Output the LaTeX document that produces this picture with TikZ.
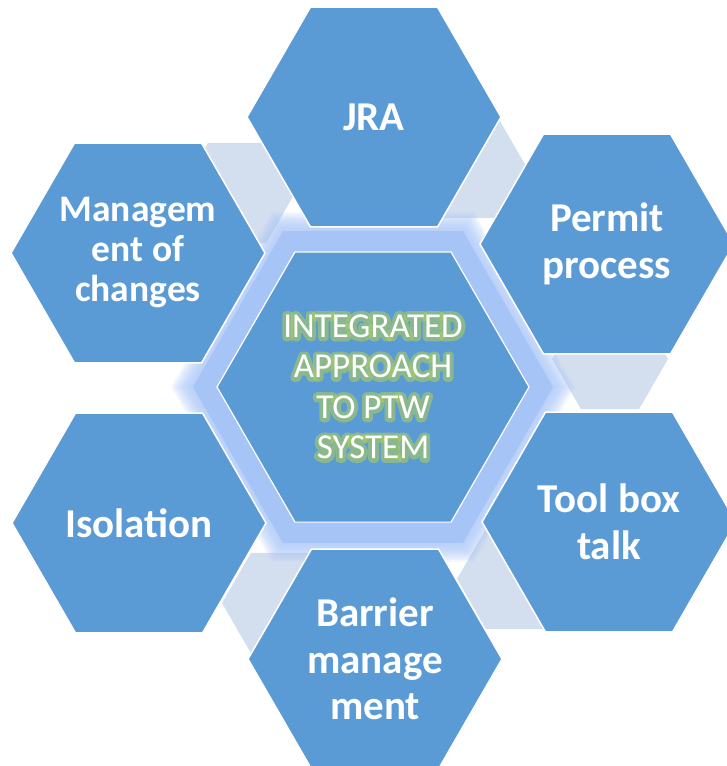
\documentclass[tikz,border=0pt]{standalone}
\usepackage{fontspec}
\setmainfont{Carlito}
\newfontfamily\shinefont[FakeBold=22]{Carlito}
\usetikzlibrary{shapes.geometric}

\definecolor{hexblue}{HTML}{5B9BD5}
\definecolor{glowblue}{HTML}{A7C4F7}
\definecolor{linkgray}{HTML}{D3DEEF}
\definecolor{textglow}{HTML}{A8CC62}

\newcommand\ptwtitle{INTEGRATED\\APPROACH\\TO PTW\\SYSTEM}
\newcommand\roundjoins{\special{pdf:literal direct 1 j 1 J}}

\begin{document}
\begin{tikzpicture}[x=1pt, y=-1pt]

      \tikzset{
        hex/.style={regular polygon, regular polygon sides=6, inner sep=0pt},
        item/.style={hex, fill=hexblue, draw=white, line width=1.5pt, minimum size=254pt},
        item label/.style={align=center, inner sep=0pt, text=white,
          font=\fontsize{41}{46.5}\selectfont\bfseries},
        small label/.style={item label, font=\fontsize{37.5}{40}\selectfont\bfseries},
        link/.style={hex, fill=linkgray, minimum size=116pt},
        halo/.style={hex, fill=glowblue, minimum size=#1},
        title/.style={align=center, inner sep=0pt, font=\fontsize{35}{40.5}\selectfont},
      }

      \useasboundingbox (0,0) rectangle (726,766);

      % links between neighbours
      \node[link](l1) at (237,193) {};
      \node[link](l2) at (469,168) {};
      \node[link](l3) at (610,359) {};
      \node[link](l4) at (515,579) {};
      \node[link](l5) at (280,603) {};

      % glow round the middle
      \foreach \k in {26,28,...,46} {
          \node[halo={312pt+2pt*\k}, fill opacity=0.13](halo\k) at (373,387) {};
      };
      \node[halo={360pt}](halo) at (373,387) {};
      \node[hex, fill=hexblue, draw=white, line width=1.2pt, minimum size=312pt](mid) at (373,387) {};

      \node[item, label={[item label]center:JRA}](jra) at (374,117) {};
      \node[item, label={[item label]center:Permit\\process}](permit) at (607,244) {};
      \node[item, label={[item label]center:Tool box\\talk}](tbt) at (609,522) {};
      \node[item, label={[item label]center:Barrier\\manage\\ment}](barrier) at (375,659) {};
      \node[item, label={[item label]center:Isolation}](iso) at (139,523) {};
      \node[item, label={[small label]center:Managem\\ent of\\changes}](moc) at (138,253) {};

      % shining title
      \node[title, text=textglow, text opacity=0.6, font=\fontsize{35}{40.5}\shinefont](shine) at (373,387) {\roundjoins\ptwtitle};
      \node[title, text=white](goal) at (373,387) {\ptwtitle};

    \end{tikzpicture}
\end{document}
